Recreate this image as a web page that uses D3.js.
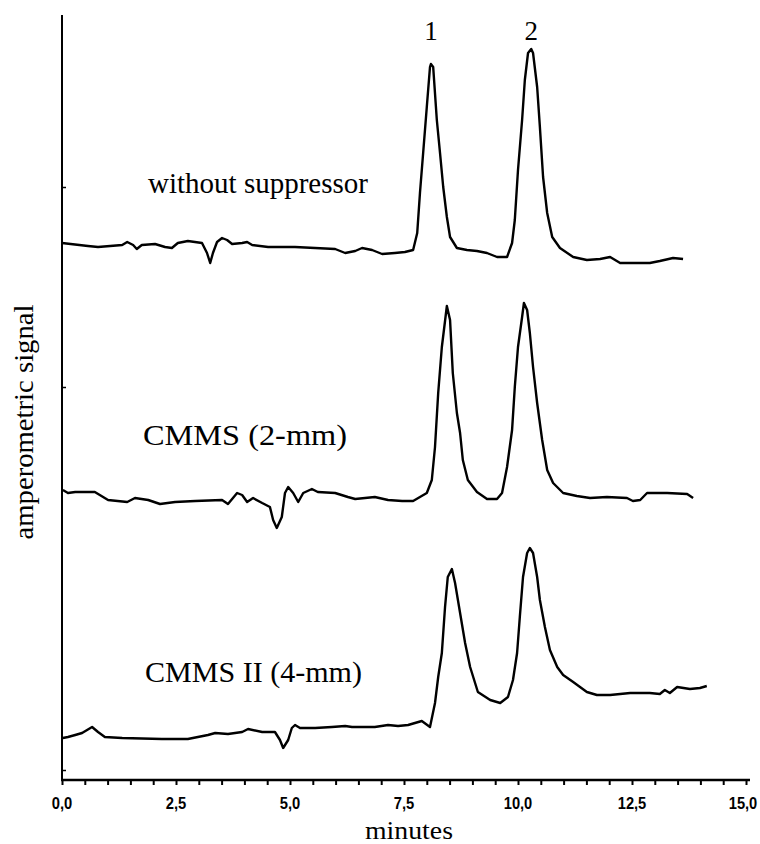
<!DOCTYPE html>
<html>
<head>
<meta charset="utf-8">
<script src="https://cdn.jsdelivr.net/npm/d3@7"></script>
<style>
  html, body { margin: 0; padding: 0; background: #fff; }
  svg { display: block; }
</style>
</head>
<body>
<svg id="chart" width="760" height="844"></svg>
<script>
// ---- data (time in minutes, signal in arbitrary units, traces stacked) ----
const xTickValues = d3.range(0, 15.001, 0.5);
const xLabelValues = [0, 2.5, 5, 7.5, 10, 12.5, 15];
const yTickValues = [10, 393, 593];

const traceNames = ["without suppressor", "CMMS (2-mm)", "CMMS II (4-mm)"];
const peakLabels = ["1", "2"];
const peakTimes = [8.09, 10.29];

const withoutSuppressor = [
  [0.00,537],[0.57,534],[0.79,533],[1.32,535],[1.43,538],[1.56,535],[1.64,531],[1.75,535],
  [2.04,536],[2.26,533],[2.41,532],[2.54,537],[2.76,539],[3.07,537],[3.18,527],[3.25,517],
  [3.31,527],[3.40,538],[3.51,542],[3.62,540],[3.73,536],[3.95,537],[4.06,538],[4.17,535],
  [4.52,533],[4.96,533],[5.11,533],[5.55,532],[5.99,531],[6.21,527],[6.43,529],[6.58,532],
  [6.80,530],[7.02,526],[7.30,527],[7.52,528],[7.70,530],[7.79,547],[7.85,587],[7.92,627],
  [8.00,673],[8.07,713],[8.09,716],[8.14,713],[8.22,660],[8.29,627],[8.36,593],[8.44,563],
  [8.51,543],[8.66,532],[8.88,530],[9.10,529],[9.32,527],[9.54,523],[9.76,523],[9.87,537],
  [9.93,560],[10.00,610],[10.09,660],[10.15,700],[10.22,727],[10.29,731],[10.33,727],
  [10.42,693],[10.48,653],[10.55,603],[10.64,567],[10.75,543],[10.92,532],[11.21,523],
  [11.51,520],[11.80,521],[12.02,523],[12.24,517],[12.52,517],[12.89,517],[13.11,519],
  [13.40,522],[13.62,521]
];

const cmms2mm = [
  [0.02,290],[0.13,287],[0.29,288],[0.72,288],[1.01,280],[1.43,278],[1.60,282],[1.89,280],
  [2.15,276],[2.48,278],[2.92,279],[3.51,280],[3.64,276],[3.84,287],[3.95,285],[4.06,278],
  [4.19,282],[4.39,277],[4.56,273],[4.63,260],[4.71,252],[4.82,263],[4.89,287],[4.96,293],
  [5.07,287],[5.18,278],[5.29,287],[5.48,291],[5.61,288],[5.99,287],[6.27,283],[6.43,281],
  [6.86,283],[7.15,280],[7.46,279],[7.70,279],[8.00,287],[8.11,300],[8.18,333],[8.25,387],
  [8.33,433],[8.44,474],[8.51,460],[8.57,407],[8.66,367],[8.73,347],[8.79,320],[8.90,300],
  [9.10,288],[9.32,281],[9.54,281],[9.65,287],[9.76,313],[9.87,350],[9.93,393],[10.00,433],
  [10.09,463],[10.13,477],[10.20,470],[10.26,447],[10.33,413],[10.42,377],[10.53,340],
  [10.64,310],[10.77,297],[10.99,287],[11.29,284],[11.58,282],[11.95,283],[12.39,282],
  [12.52,279],[12.68,280],[12.83,287],[13.27,287],[13.71,286],[13.84,282]
];

const cmmsII4mm = [
  [0.02,42],[0.13,43],[0.29,45],[0.44,47],[0.66,53],[0.79,48],[0.94,43],[1.32,42],
  [2.19,41],[2.76,41],[3.20,45],[3.36,47],[3.64,46],[3.95,48],[4.08,51],[4.39,48],
  [4.67,48],[4.78,40],[4.85,32],[4.96,40],[5.04,52],[5.11,55],[5.22,52],[5.55,52],
  [5.92,53],[6.21,54],[6.36,53],[6.86,53],[7.15,55],[7.37,54],[7.59,55],[7.89,59],
  [8.07,53],[8.18,77],[8.25,103],[8.33,127],[8.40,173],[8.46,203],[8.55,211],[8.62,197],
  [8.73,167],[8.84,137],[8.95,113],[9.12,88],[9.39,80],[9.61,77],[9.78,83],[9.89,100],
  [9.98,127],[10.04,163],[10.11,203],[10.20,227],[10.26,232],[10.33,227],[10.42,203],
  [10.48,180],[10.59,153],[10.70,130],[10.86,113],[10.99,105],[11.21,98],[11.51,88],
  [11.73,85],[12.02,85],[12.46,87],[12.89,87],[13.11,86],[13.22,90],[13.33,87],
  [13.49,93],[13.77,91],[13.99,92],[14.14,94]
];

const traces = [withoutSuppressor, cmms2mm, cmmsII4mm];

// ---- layout ----
const svg = d3.select("#chart");
const x = d3.scaleLinear().domain([0, 15]).range([62, 746]);
const y = d3.scaleLinear().domain([0, 765]).range([780, 15]);

const serif = "'Liberation Serif', 'Times New Roman', serif";

// traces
const line = d3.line().x(d => x(d[0])).y(d => y(d[1])).curve(d3.curveLinear);
svg.append("g").selectAll("path").data(traces).join("path")
  .attr("d", line)
  .attr("fill", "none")
  .attr("stroke", "#000")
  .attr("stroke-width", 2.4)
  .attr("stroke-linejoin", "round");

// x axis
const xAxis = d3.axisBottom(x)
  .tickValues(xTickValues)
  .tickSize(5)
  .tickSizeOuter(0)
  .tickFormat("");
const gx = svg.append("g").attr("transform", `translate(0,${y(0)})`).call(xAxis);
gx.select(".domain").attr("stroke", "#000").attr("stroke-width", 2.5)
  .attr("d", `M${x(0) - 1},0H${x(15) + 4}`);
gx.selectAll(".tick line").attr("stroke", "#000").attr("stroke-width", 2);

const fmt = d => d3.format(".1f")(d).replace(".", ",");
svg.append("g").selectAll("text").data(xLabelValues).join("text")
  .attr("x", d => Math.min(x(d), 743))
  .attr("y", y(0) + 29)
  .attr("text-anchor", "middle")
  .attr("font-family", "'Liberation Sans', Arial, sans-serif")
  .attr("font-weight", "bold")
  .attr("font-size", 16)
  .attr("textLength", d => (fmt(d).length - 1) * 8 + 4.5)
  .attr("lengthAdjust", "spacingAndGlyphs")
  .attr("fill", "#000")
  .text(fmt);

// y axis
const yAxis = d3.axisRight(y).tickValues(yTickValues).tickSize(4).tickSizeOuter(0).tickFormat("");
const gy = svg.append("g").attr("transform", `translate(${x(0)},0)`).call(yAxis);
gy.select(".domain").attr("stroke", "#000").attr("stroke-width", 2)
  .attr("d", `M0,${y(765)}V${y(0)}`);
gy.selectAll(".tick line").attr("stroke", "#000").attr("stroke-width", 1.5);

// axis titles
svg.append("text")
  .attr("x", 409).attr("y", 839)
  .attr("text-anchor", "middle")
  .attr("font-family", serif).attr("font-size", 26)
  .attr("textLength", 88).attr("lengthAdjust", "spacingAndGlyphs")
  .text("minutes");

svg.append("text")
  .attr("transform", "translate(33,422) rotate(-90)")
  .attr("text-anchor", "middle")
  .attr("font-family", serif).attr("font-size", 28)
  .attr("textLength", 235).attr("lengthAdjust", "spacingAndGlyphs")
  .text("amperometric signal");

// trace labels
const labelPos = [
  {x: 148, y: 193, len: 220},
  {x: 143, y: 445, len: 204},
  {x: 145, y: 682, len: 217}
];
svg.append("g").selectAll("text").data(traceNames).join("text")
  .attr("x", (d, i) => labelPos[i].x)
  .attr("y", (d, i) => labelPos[i].y)
  .attr("font-family", serif).attr("font-size", 29)
  .attr("textLength", (d, i) => labelPos[i].len)
  .attr("lengthAdjust", "spacingAndGlyphs")
  .attr("fill", "#000")
  .text(d => d);

// peak labels
svg.append("g").selectAll("text").data(peakLabels).join("text")
  .attr("x", (d, i) => x(peakTimes[i]))
  .attr("y", 40)
  .attr("text-anchor", "middle")
  .attr("font-family", serif).attr("font-size", 27)
  .attr("fill", "#000")
  .text(d => d);
</script>
</body>
</html>
